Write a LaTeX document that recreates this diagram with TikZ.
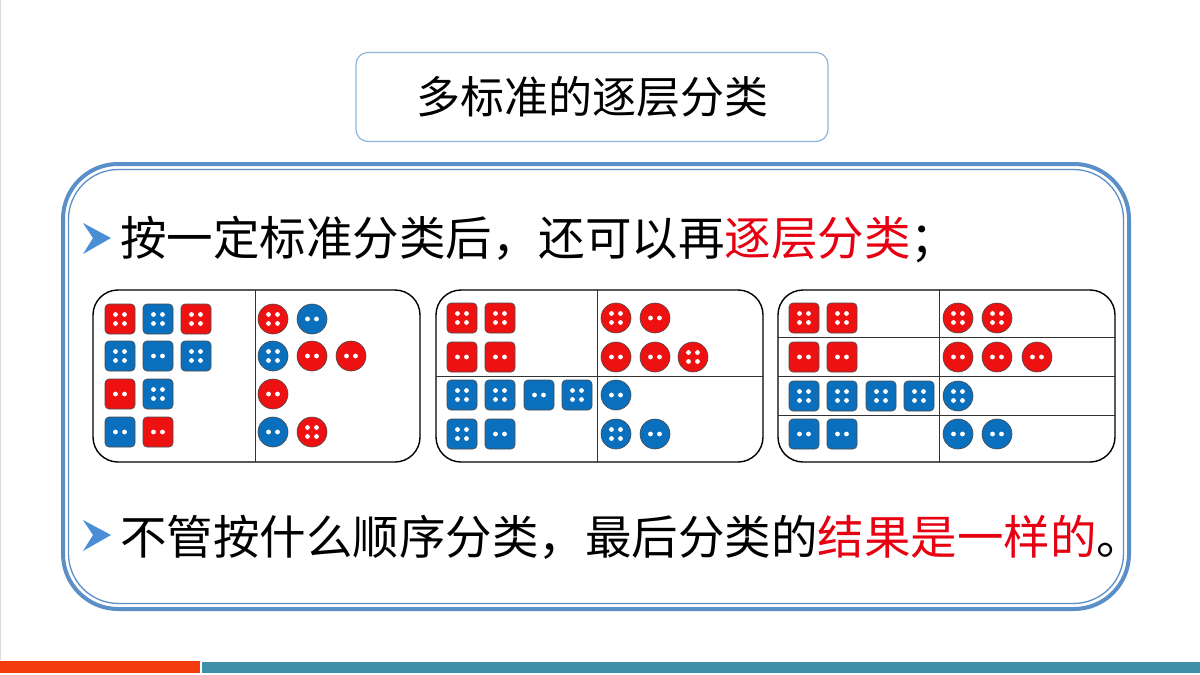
\documentclass[tikz,border=0pt]{standalone}
\usepackage{fontspec}
\newfontfamily\cjk{Noto Sans CJK SC}
\definecolor{frameblue}{HTML}{5A8FC8}
\definecolor{titleblue}{HTML}{8FB4DC}
\definecolor{dred}{HTML}{EE1111}
\definecolor{dblue}{HTML}{0A6FBD}
\definecolor{txtred}{HTML}{E60012}
\definecolor{barred}{HTML}{F23A0C}
\definecolor{barteal}{HTML}{3F8FA8}
\definecolor{bulletblue}{HTML}{4A8FD6}
\newcommand{\mydie}[4]{%
  \draw[fill=#3,draw=black!70,line width=0.6pt,rounded corners=4pt] (#1-15,#2-15) rectangle (#1+15,#2+15);
  \mydots{#1}{#2}{#4}}
\newcommand{\mybtn}[4]{%
  \draw[fill=#3,draw=black!70,line width=0.6pt] (#1,#2) circle (15);
  \mydots{#1}{#2}{#4}}
\newcommand{\mydots}[3]{%
  \ifnum#3=4
    \fill[white] (#1-4.5,#2-4.5) circle (2.4) (#1+4.5,#2-4.5) circle (2.4) (#1-4.5,#2+4.5) circle (2.4) (#1+4.5,#2+4.5) circle (2.4);
  \else
    \fill[white] (#1-4.5,#2) circle (2.4) (#1+4.5,#2) circle (2.4);
  \fi}
\tikzset{panel/.style={draw=black,line width=1.4pt,rounded corners=25pt},
  divider/.style={draw=black!80,line width=0.8pt},
  bigtext/.style={font=\cjk\fontsize{46.5}{52}\selectfont,anchor=west,inner sep=0pt}}
\begin{document}
\begin{tikzpicture}[x=1pt,y=-1pt]
\useasboundingbox (0,0) rectangle (1200,675);
\fill[white] (0,0) rectangle (1200,675);
\draw[black!15,line width=1pt] (0.5,0) -- (0.5,660);
% bottom bars
\fill[barred] (0,661) rectangle (200,673);
\fill[barteal] (202,662) rectangle (1200,673);
% title
\node[draw=titleblue,line width=1.2pt,rounded corners=12pt,minimum width=472pt,minimum height=89pt,font=\cjk\fontsize{44}{50}\selectfont] (title) at (592,97) {多标准的逐层分类};
% frame
\draw[frameblue,line width=4pt,rounded corners=55pt] (63,164) rectangle (1129,609);
\draw[frameblue,line width=1.3pt,rounded corners=50pt] (68.5,169.5) rectangle (1123.5,603.5);
% bullets
\foreach \yy/\nm in {240/b1,537/b2}{
  \fill[bulletblue] (83,\yy-17) -- (111,\yy-2) -- (83,\yy+14) -- (93,\yy-2) -- cycle;
  \coordinate (\nm) at (83,\yy);
}
\node[bigtext] (l1) at (120,240) {按一定标准分类后，还可以再\textcolor{txtred}{逐层分类}；};
\node[bigtext] (l2) at (120,537) {不管按什么顺序分类，最后分类的\textcolor{txtred}{结果是一样的}。};
% panel 1
\draw[panel] (93,290) rectangle (420,462);
\draw[divider] (255,290) -- (255,462);
\foreach \x/\y/\c/\n in {120/319/dred/4,158/319/dblue/4,196/319/dred/4,
  120/356/dblue/4,158/356/dblue/2,196/356/dblue/4,
  120/394/dred/2,158/394/dblue/4,120/432/dblue/2,158/432/dred/2}{\mydie{\x}{\y}{\c}{\n}}
\foreach \x/\y/\c/\n in {273/319/dred/4,312/319/dblue/2,
  273/356/dblue/4,312/356/dred/2,351/356/dred/2,
  273/394/dred/2,273/432/dblue/2,312/432/dred/4}{\mybtn{\x}{\y}{\c}{\n}}
% panel 2
\draw[panel] (436,290) rectangle (763,462);
\draw[divider] (597,290) -- (597,462) (436,376) -- (763,376);
\foreach \x/\y/\c/\n in {462/318/dred/4,500/318/dred/4,462/357/dred/2,500/357/dred/2,
  462/395/dblue/4,500/395/dblue/4,539/395/dblue/2,577/395/dblue/4,
  462/434/dblue/4,500/434/dblue/2}{\mydie{\x}{\y}{\c}{\n}}
\foreach \x/\y/\c/\n in {616/318/dred/4,655/318/dred/2,
  616/357/dred/2,655/357/dred/2,693/357/dred/4,
  616/395/dblue/2,616/434/dblue/4,655/434/dblue/2}{\mybtn{\x}{\y}{\c}{\n}}
% panel 3
\draw[panel] (778,290) rectangle (1115,462);
\draw[divider] (939,290) -- (939,462) (778,337) -- (1115,337) (778,376) -- (1115,376) (778,415) -- (1115,415);
\foreach \x/\y/\c/\n in {804/318/dred/4,842/318/dred/4,804/357/dred/2,842/357/dred/2,
  804/396/dblue/4,842/396/dblue/4,881/396/dblue/4,919/396/dblue/4,
  804/434/dblue/2,842/434/dblue/2}{\mydie{\x}{\y}{\c}{\n}}
\foreach \x/\y/\c/\n in {958/318/dred/4,997/318/dred/4,
  958/357/dred/2,997/357/dred/2,1037/357/dred/2,
  958/396/dblue/4,958/434/dblue/2,997/434/dblue/2}{\mybtn{\x}{\y}{\c}{\n}}
\end{tikzpicture}
\end{document}
